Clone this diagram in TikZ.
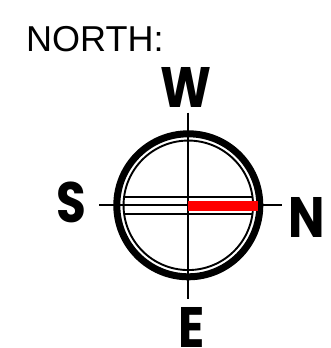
\documentclass[tikz,border=0pt]{standalone}
\usepackage{fontspec}
\usepackage{xcolor}
\setmainfont{Liberation Sans}
\newfontfamily\dirfont[FakeStretch=0.85]{Poppins}
\usetikzlibrary{positioning}

\begin{document}
\begin{tikzpicture}[
    x=1pt, y=-1pt,
    title/.style={anchor=base west, inner sep=0pt, font=\fontsize{36}{36}\selectfont},
    dir/.style={anchor=base, inner sep=0pt, font=\fontsize{57}{57}\selectfont\dirfont\bfseries},
    hair/.style={draw=black, line width=1.9pt},
    ring/.style={circle, draw=black, line width=7pt, minimum size=143pt, inner sep=0pt},
    innerring/.style={circle, draw=black, line width=1.9pt, minimum size=129.5pt, inner sep=0pt},
    needle/.style={draw=none, fill=red}
]
\useasboundingbox (0,0) rectangle (331,348);

\coordinate (c) at (188.3,205.3);
\coordinate (top) at (188.3,112.7);
\coordinate (bot) at (188.3,298.7);
\coordinate (lft) at (99.3,205.3);
\coordinate (rgt) at (282.3,205.3);

\node[ring] (outer) at (c) {};
\node[innerring] (inner) at (c) {};

\draw[hair] (top) -- (bot);
\draw[hair] (lft) -- (rgt);
\draw[hair] (124,196.7) coordinate (a1) -- (253,196.7) coordinate (a2);
\draw[hair] (124,214) coordinate (b1) -- (253,214) coordinate (b2);

\fill[needle] (188.3,200.7) rectangle (258,211);

\node[title] (north) at (26,51) {NORTH:};
\node[dir] (w) at (185.7,107) {W};
\node[dir] (s) at (71.5,222) {S};
\node[dir] (n) at (307,237) {N};
\node[dir] (e) at (192,347) {E};
\end{tikzpicture}
\end{document}
